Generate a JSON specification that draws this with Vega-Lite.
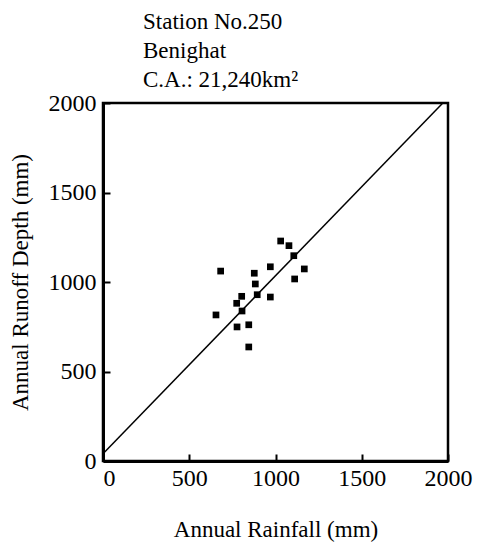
{
  "$schema": "https://vega.github.io/schema/vega-lite/v6.json",
  "autosize": "none",
  "width": 345,
  "height": 358,
  "padding": {"left": 103, "top": 103, "right": 31, "bottom": 83},
  "background": "white",
  "config": {
    "font": "Liberation Serif",
    "view": {"stroke": "black", "strokeWidth": 2.5}
  },
  "title": {
    "text": ["Station No.250", "Benighat", "C.A.: 21,240km²"],
    "anchor": "start",
    "frame": "group",
    "dx": 40,
    "font": "Liberation Serif",
    "fontSize": 23,
    "fontWeight": "normal",
    "lineHeight": 29,
    "offset": -1,
    "color": "black"
  },
  "layer": [
    {
      "data": {"values": [
        {"rain": 0, "runoff": 40},
        {"rain": 1970, "runoff": 2000}
      ]},
      "mark": {"type": "line", "color": "black", "strokeWidth": 1.5},
      "encoding": {
        "x": {"field": "rain", "type": "quantitative"},
        "y": {"field": "runoff", "type": "quantitative"}
      }
    },
    {
      "data": {"values": [
        {"rain": 682, "runoff": 1061},
        {"rain": 1030, "runoff": 1229},
        {"rain": 1078, "runoff": 1203},
        {"rain": 1106, "runoff": 1147},
        {"rain": 970, "runoff": 1085},
        {"rain": 1167, "runoff": 1073},
        {"rain": 1111, "runoff": 1017},
        {"rain": 877, "runoff": 1049},
        {"rain": 883, "runoff": 989},
        {"rain": 804, "runoff": 920},
        {"rain": 894, "runoff": 929},
        {"rain": 970, "runoff": 916},
        {"rain": 775, "runoff": 881},
        {"rain": 655, "runoff": 816},
        {"rain": 806, "runoff": 838},
        {"rain": 777, "runoff": 749},
        {"rain": 845, "runoff": 761},
        {"rain": 845, "runoff": 637}
      ]},
      "mark": {"type": "point", "shape": "square", "filled": true, "color": "black", "size": 45, "opacity": 1},
      "encoding": {
        "x": {
          "field": "rain", "type": "quantitative",
          "scale": {"domain": [0, 2000], "nice": false},
          "axis": {
            "title": "Annual Rainfall (mm)",
            "values": [0, 500, 1000, 1500, 2000],
            "format": "d",
            "grid": false,
            "domainColor": "black", "domainWidth": 3,
            "tickColor": "black", "tickSize": -7, "tickWidth": 2,
            "labelFont": "Liberation Serif", "labelFontSize": 24, "labelColor": "black",
            "labelPadding": 12, "labelDx": 4,
            "labelAlign": {"condition": {"test": "datum.value == 0", "value": "left"}, "value": "center"},
            "labelFlush": false,
            "titleFont": "Liberation Serif", "titleFontSize": 23, "titleFontWeight": "normal", "titleColor": "black",
            "titlePadding": 28
          }
        },
        "y": {
          "field": "runoff", "type": "quantitative",
          "scale": {"domain": [0, 2000], "nice": false},
          "axis": {
            "title": "Annual Runoff Depth (mm)",
            "values": [0, 500, 1000, 1500, 2000],
            "format": "d",
            "grid": false,
            "domainColor": "black", "domainWidth": 3,
            "tickColor": "black", "tickSize": -7, "tickWidth": 2,
            "labelFont": "Liberation Serif", "labelFontSize": 24, "labelColor": "black",
            "labelPadding": 14,
            "labelFlush": false,
            "titleFont": "Liberation Serif", "titleFontSize": 23, "titleFontWeight": "normal", "titleColor": "black",
            "titlePadding": 16
          }
        }
      }
    }
  ]
}
